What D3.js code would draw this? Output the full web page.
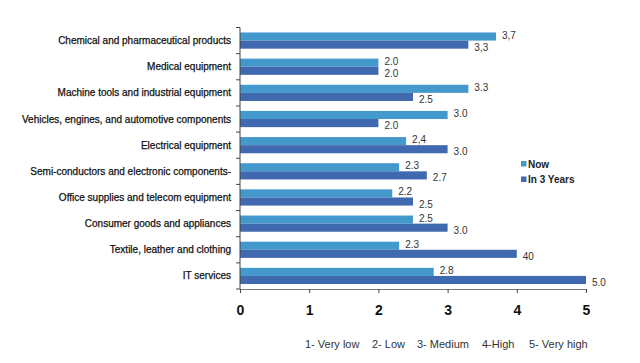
<!DOCTYPE html>
<html>
<head>
<meta charset="utf-8">
<script src="https://cdn.jsdelivr.net/npm/d3@7"></script>
<style>
  body { margin: 0; background: #fff; }
  svg { display: block; font-family: "Liberation Sans", Arial, sans-serif; }
</style>
</head>
<body>
<div id="chart"></div>
<script>
const categories = [
  "Chemical and pharmaceutical products",
  "Medical equipment",
  "Machine tools and industrial equipment",
  "Vehicles, engines, and automotive components",
  "Electrical equipment",
  "Semi-conductors and electronic components-",
  "Office supplies and telecom equipment",
  "Consumer goods and appliances",
  "Textile, leather and clothing",
  "IT services"
];
const nowValues = [3.7, 2.0, 3.3, 3.0, 2.4, 2.3, 2.2, 2.5, 2.3, 2.8];
const futureValues = [3.3, 2.0, 2.5, 2.0, 3.0, 2.7, 2.5, 3.0, 4.0, 5.0];
// labels as printed on the original (mixed separators, "40")
const nowLabels = ["3,7", "2.0", "3.3", "3.0", "2,4", "2.3", "2.2", "2.5", "2.3", "2.8"];
const futureLabels = ["3,3", "2.0", "2.5", "2.0", "3.0", "2.7", "2.5", "3.0", "40", "5.0"];
const seriesNames = ["Now", "In 3 Years"];
const xTicks = [0, 1, 2, 3, 4, 5];
const scaleNotes = ["1- Very low", "2- Low", "3- Medium", "4-High", "5- Very high"];

const width = 640, height = 363;
const colors = ["#4499cc", "#4169b0"];

const svg = d3.select("#chart").append("svg")
  .attr("width", width)
  .attr("height", height);

const x = d3.scaleLinear().domain([0, 5]).range([240, 586]);
const y = d3.scaleBand()
  .domain(categories)
  .range([27.5, 289])
  .paddingInner(0.38)
  .paddingOuter(0.19);
const sub = d3.scaleBand().domain(seriesNames).range([0, y.bandwidth()]);

const rows = categories.map((c, i) => ({
  cat: c,
  vals: [
    { s: seriesNames[0], v: nowValues[i], label: nowLabels[i] },
    { s: seriesNames[1], v: futureValues[i], label: futureLabels[i] }
  ]
}));

// bars
const g = svg.append("g");
const row = g.selectAll("g.row").data(rows).join("g")
  .attr("class", "row")
  .attr("transform", d => `translate(0,${y(d.cat)})`);

row.selectAll("rect").data(d => d.vals).join("rect")
  .attr("x", x(0))
  .attr("y", d => sub(d.s))
  .attr("width", d => x(d.v) - x(0))
  .attr("height", sub.bandwidth())
  .attr("fill", (d, i) => colors[i]);

// value labels, nudged apart so the pair doesn't collide
row.selectAll("text").data(d => d.vals).join("text")
  .attr("x", d => x(d.v) + 6)
  .attr("y", (d, i) => sub(d.s) + sub.bandwidth() / 2 + (i === 0 ? 2 : 6))
  .attr("font-size", 10)
  .attr("fill", "#333")
  .text(d => d.label);

// y axis
const step = y.step();
const bounds = categories.map(c => y(c) - step * y.paddingInner() / 2);
bounds.push(bounds[bounds.length - 1] + step);
const yAxis = svg.append("g");
yAxis.append("line")
  .attr("x1", x(0)).attr("x2", x(0))
  .attr("y1", bounds[0]).attr("y2", bounds[bounds.length - 1])
  .attr("stroke", "#444");
yAxis.selectAll("line.tick").data(bounds).join("line")
  .attr("class", "tick")
  .attr("x1", x(0) - 4).attr("x2", x(0))
  .attr("y1", d => d).attr("y2", d => d)
  .attr("stroke", "#444");
yAxis.selectAll("text").data(categories).join("text")
  .attr("x", 231)
  .attr("y", d => y(d) + y.bandwidth() / 2 + 3.5)
  .attr("text-anchor", "end")
  .attr("font-size", 10)
  .attr("fill", "#111")
  .attr("stroke", "#111")
  .attr("stroke-width", 0.25)
  .text(d => d);

// x axis
const xAxis = svg.append("g")
  .attr("transform", `translate(0,${bounds[bounds.length - 1]})`)
  .call(d3.axisBottom(x).tickValues(xTicks).tickSize(4).tickPadding(12).tickFormat(d3.format("d")));
xAxis.select(".domain").attr("stroke", "#777");
xAxis.selectAll(".tick line").attr("stroke", "#444");
xAxis.selectAll(".tick text")
  .attr("font-size", 14)
  .attr("font-weight", "bold")
  .attr("fill", "#111")
  .attr("font-family", "'Liberation Sans', Arial, sans-serif");

// legend
const legend = svg.append("g").attr("transform", "translate(521,164)");
const li = legend.selectAll("g").data(seriesNames).join("g")
  .attr("transform", (d, i) => `translate(0,${i * 15.5})`);
li.append("rect")
  .attr("x", 0).attr("y", -3)
  .attr("width", 5.5).attr("height", 5.5)
  .attr("fill", (d, i) => colors[i]);
li.append("text")
  .attr("x", 7).attr("y", 3.5)
  .attr("font-size", 10)
  .attr("font-weight", "bold")
  .attr("fill", "#222")
  .text(d => d);

// rating scale note
const noteX = [305, 372, 417, 482, 529];
svg.append("g").selectAll("text").data(scaleNotes).join("text")
  .attr("x", (d, i) => noteX[i])
  .attr("y", 348)
  .attr("font-size", 11)
  .attr("fill", "#333")
  .text(d => d);
</script>
</body>
</html>
